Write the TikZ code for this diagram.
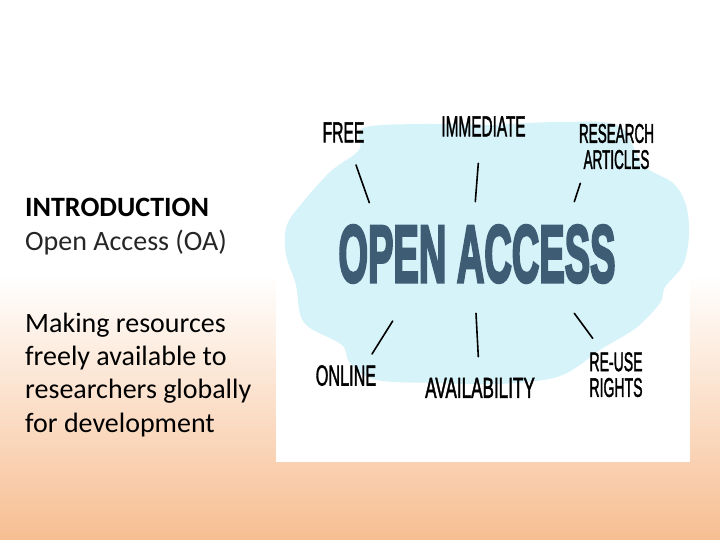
\documentclass[tikz,border=0pt]{standalone}
\usepackage{fontspec}
\usepackage{graphicx}
\setmainfont{Carlito}
\newfontfamily\handfont[FakeBold=2]{Liberation Sans}
\newfontfamily\bigfont[FakeBold=4]{Liberation Sans Bold}
\definecolor{peach}{RGB}{247,190,146}
\definecolor{cloudblue}{RGB}{214,243,250}
\definecolor{oablue}{RGB}{62,92,116}
\newcommand{\squeeze}[2]{\scalebox{#1}[1]{\begin{tabular}{@{}c@{}}#2\end{tabular}}}
\begin{document}
\begin{tikzpicture}
  [x=1pt,y=-1pt,
   lbl/.style={inner sep=0pt,font=\handfont\fontsize{29}{24}\selectfont},
   txt/.style={inner sep=0pt,anchor=base west,font=\fontsize{28}{33.3}\selectfont}]
  \useasboundingbox (0,0) rectangle (720,540);
  \fill[white] (0,0) rectangle (720,276);
  \shade[top color=white,bottom color=peach] (0,275) rectangle (720,540);

  % text on the left
  \node[txt,font=\fontsize{28}{33.3}\selectfont\bfseries] (intro) at (25,216.5) {INTRODUCTION};
  \node[txt,text=black!85] (oa) at (25,250) {Open Access (OA)};
  \node[txt,align=left] (body) at (25,432) {Making resources\\freely available to\\researchers globally\\for development};

  % picture
  \fill[white] (276,105) rectangle (690,462);
  \fill[cloudblue] plot[smooth cycle,tension=.55] coordinates {
    (363,128) (420,124) (486,125) (560,122) (619,126) (643,165) (673,183)
    (686,205) (689,235) (683,265) (665,287) (660,303) (636,328) (603,348)
    (560,376) (500,384) (440,383) (376,380) (350,363) (342,345) (310,328)
    (300,314) (296,285) (286,255) (286,228) (298,208) (330,172) (359,150)};
  \node[text=oablue,inner sep=0pt,font=\bigfont\fontsize{81}{81}\selectfont]
    (open) at (477,254) {\scalebox{.47}[1]{OPEN ACCESS}};

  \node[lbl] (free) at (343.5,136) {\squeeze{.54}{FREE}};
  \node[lbl] (immediate) at (483.5,130) {\squeeze{.53}{IMMEDIATE}};
  \node[lbl,font=\handfont\fontsize{27}{24}\selectfont] (research) at (616.5,150) {\squeeze{.5}{RESEARCH\\ARTICLES}};
  \node[lbl] (online) at (346,379) {\squeeze{.56}{ONLINE}};
  \node[lbl] (avail) at (480,391.5) {\squeeze{.59}{AVAILABILITY}};
  \node[lbl,font=\handfont\fontsize{27}{23}\selectfont] (reuse) at (616,378) {\squeeze{.52}{RE-USE\\RIGHTS}};

  \coordinate (f1) at (356,165);   \coordinate (f2) at (369.3,202.7);
  \coordinate (i1) at (478.3,163.3); \coordinate (i2) at (475.3,201.7);
  \coordinate (r1) at (580.3,183.3); \coordinate (r2) at (574.3,201.7);
  \coordinate (o1) at (392.7,321); \coordinate (o2) at (372,354);
  \coordinate (a1) at (476,313.3); \coordinate (a2) at (478.3,356.7);
  \coordinate (u1) at (574.3,313.3); \coordinate (u2) at (592.7,338.3);

  \foreach \from/\to in {f1/f2,i1/i2,r1/r2,o1/o2,a1/a2,u1/u2}
    \draw[line width=1.6pt,line cap=round] (\from) -- (\to);

\end{tikzpicture}
\end{document}
